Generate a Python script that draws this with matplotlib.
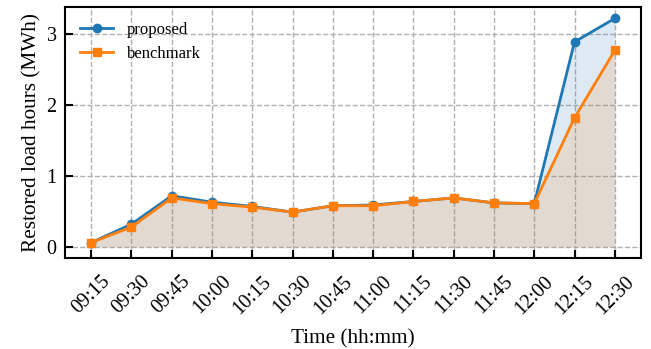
import matplotlib
matplotlib.use("Agg")
import matplotlib.pyplot as plt
import numpy as np

times = ["09:15", "09:30", "09:45", "10:00", "10:15", "10:30", "10:45",
         "11:00", "11:15", "11:30", "11:45", "12:00", "12:15", "12:30"]
proposed = [0.06, 0.32, 0.72, 0.63, 0.57, 0.49, 0.58, 0.59, 0.64, 0.69, 0.62, 0.61, 2.89, 3.22]
benchmark = [0.06, 0.28, 0.69, 0.61, 0.56, 0.49, 0.58, 0.58, 0.64, 0.69, 0.62, 0.61, 1.82, 2.77]

plt.rcParams['font.family'] = ['Liberation Serif', 'DejaVu Serif']
plt.rcParams['mathtext.fontset'] = 'stix'

fig = plt.figure(figsize=(6.51, 3.49), dpi=100)
ax = fig.add_axes([65/651, 1 - 258.3/349, (641-65)/651, (258.3-7)/349])

x = np.arange(len(times))
ax.plot(x, proposed, color='#1f77b4', marker='o', ms=6, lw=2, label='proposed', zorder=3)
ax.plot(x, benchmark, color='#ff7f0e', marker='s', ms=6, lw=2, label='benchmark', zorder=4)
ax.fill_between(x, 0, proposed, color='#1f77b4', alpha=0.15, lw=0)
ax.fill_between(x, 0, benchmark, color='#ff7f0e', alpha=0.15, lw=0)

ax.set_xticks(x)
ax.set_xticklabels(times, rotation=45, fontsize=14.5)
ax.set_yticks([0, 1, 2, 3])
ax.tick_params(axis='y', labelsize=14.5, pad=6)
ax.tick_params(direction='in', length=6, width=1.5)
ax.tick_params(axis='x', pad=10)
ax.grid(True, linestyle='--', color='#b0b0b0', lw=1)
ax.set_axisbelow(True)
for s in ax.spines.values():
    s.set_linewidth(1.5)
ax.set_xlabel('Time (hh:mm)', fontsize=15.3, labelpad=8)
ax.set_ylabel('Restored load hours (MWh)', fontsize=15.3, labelpad=4)
ax.legend(loc='upper left', frameon=False, fontsize=12)

fig.savefig('out.png', dpi=100)
